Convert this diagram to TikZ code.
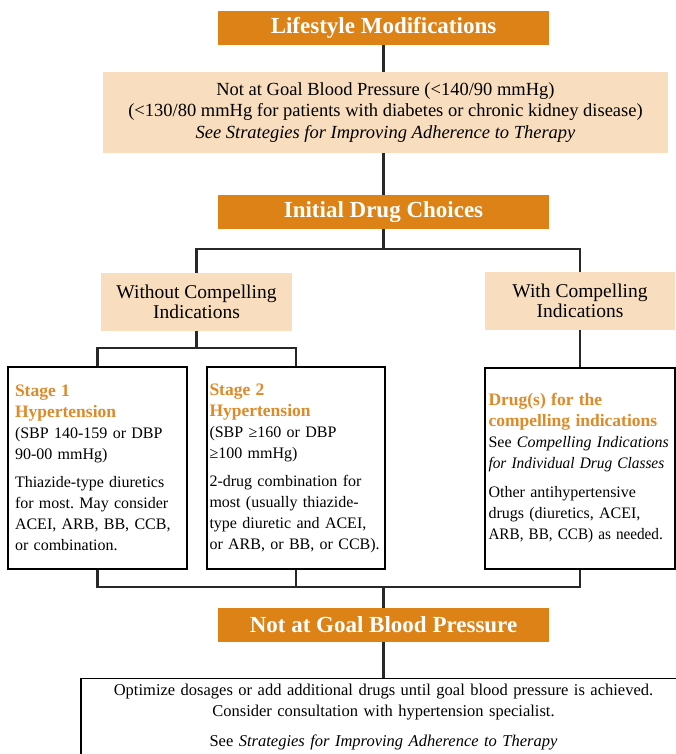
\documentclass[tikz,border=0pt]{standalone}
\usepackage{fontspec}
\setmainfont{Liberation Serif}
\usepackage{graphicx}
\usetikzlibrary{positioning,calc}
\definecolor{hdrorange}{RGB}{220,130,23}
\definecolor{palepeach}{RGB}{248,221,190}
\definecolor{stageorange}{RGB}{222,138,40}
\definecolor{linegray}{RGB}{40,40,40}
\newcommand{\txtsize}{\fontsize{16}{21}\selectfont}
\newcommand{\palesize}{\fontsize{19.5}{20.5}\selectfont}
\newcommand{\stagetitle}[1]{\textcolor{stageorange}{\fontsize{17.5}{21}\selectfont\bfseries #1}}
\frenchspacing

\begin{document}
\begin{tikzpicture}[x=1pt, y=-1pt,
    hdr/.style={fill=hdrorange, text=white, font=\fontsize{23}{26}\selectfont\bfseries,
      minimum width=331pt, minimum height=34pt, inner sep=0pt},
    pale/.style={fill=palepeach, align=center, font=\palesize, inner sep=0pt},
    panel/.style={draw=black, line width=1.2pt, fill=white, align=left, font=\txtsize, inner sep=0pt},
    conn/.style={draw=linegray, line width=2.5pt}
  ]
  \useasboundingbox (0,0) rectangle (675,754);

  % top of the chart
  \node[hdr] (life) at (383.5,28) {Lifestyle Modifications};
  \node[pale, font=\fontsize{18.5}{21.5}\selectfont, minimum width=565pt, minimum height=81pt] (goal) at (385.5,112.5)
    {Not at Goal Blood Pressure (<140/90 mmHg)\\
     (<130/80 mmHg for patients with diabetes or chronic kidney disease)\\
     \textit{See Strategies for Improving Adherence to Therapy}};
  \node[hdr] (init) at (383.5,212) {Initial Drug Choices};

  % the two branches
  \node[pale, minimum width=191pt, minimum height=58pt] (without) at (196.5,302)
    {Without Compelling\\Indications};
  \node[pale, minimum width=190pt, minimum height=58pt] (with) at (580,301)
    {With Compelling\\Indications};

  % treatment panels
  \node[panel, text width=165pt, minimum width=179pt, minimum height=202pt] (stage1) at (97.5,468)
    {\stagetitle{Stage 1}\\ \stagetitle{Hypertension}\\
     (SBP 140-159 or DBP\\ 90-00 mmHg)\\[7pt]
     Thiazide-type diuretics\\ for most. May consider\\ ACEI, ARB, BB, CCB,\\ or combination.};
  \node[panel, text width=173pt, minimum width=178pt, minimum height=202pt] (stage2) at (296,468)
    {\stagetitle{Stage 2}\\ \stagetitle{Hypertension}\\
     (SBP ≥160 or DBP\\ ≥100 mmHg)\\[7pt]
     2-drug combination for\\ most (usually thiazide-\\ type diuretic and ACEI,\\ or ARB, or BB, or CCB).};
  \node[panel, text width=183pt, minimum width=190pt, minimum height=201pt] (drugs) at (580,468.5)
    {\stagetitle{Drug(s) for the}\\ \stagetitle{compelling indications}\\
     See \textit{Compelling Indications}\\ \scalebox{0.96}[1]{\textit{for Individual Drug Classes}}\\[8pt]
     Other antihypertensive\\ drugs (diuretics, ACEI,\\ \scalebox{0.95}[1]{ARB, BB, CCB) as needed.}};

  % bottom of the chart
  \node[hdr] (notgoal) at (383.5,625) {Not at Goal Blood Pressure};
  \node[panel, font=\fontsize{16.5}{21}\selectfont, align=center, anchor=north,
        minimum width=605pt, text width=595pt, inner ysep=5pt, text depth=90pt] (optim) at (383.5,678)
    {Optimize dosages or add additional drugs until goal blood pressure is achieved.\\
     Consider consultation with hypertension specialist.\\[9pt]
     See \textit{Strategies for Improving Adherence to Therapy}};

  % connectors
  \coordinate (split1) at (383.5,249);
  \coordinate (split2) at (196.5,348);
  \coordinate (join) at (383.5,587);
  \draw[conn] (life) -- (life |- goal.north);
  \draw[conn] (life |- goal.south) -- (init);
  \draw[conn] (init) -- (split1);
  \draw[conn] (without) |- (split1) -| (with);
  \draw[conn] (without) -- (split2);
  \draw[conn] (stage1) |- (split2) -| (stage2);
  \draw[conn] (with) -- (drugs);
  \draw[conn] (stage1) |- (join) -| (drugs);
  \draw[conn] (stage2) -- (stage2 |- join);
  \draw[conn] (join) -- (notgoal);
  \draw[conn] (notgoal) -- (optim);
\end{tikzpicture}
\end{document}
